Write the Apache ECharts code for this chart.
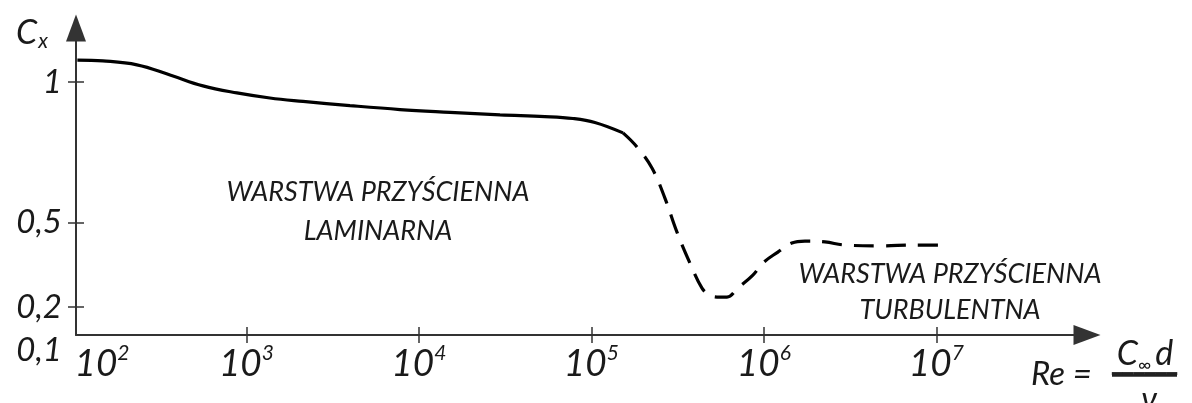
<!DOCTYPE html>
<html><head><meta charset="utf-8">
<script src="https://cdn.jsdelivr.net/npm/echarts@6/dist/echarts.min.js"></script>
<style>html,body{margin:0;padding:0;background:#fff}#c{width:1192px;height:403px}</style>
</head><body><div id="c"></div>
<script>
// x values are log10(Re)
const laminarLogRe = [2.02, 2.168, 2.365, 2.557, 2.748, 2.945, 3.136, 3.328, 3.600, 3.890, 4.180, 4.470, 4.730, 4.893, 5.020, 5.183];
const laminarCx    = [1.078, 1.075, 1.061, 1.025, 0.986, 0.961, 0.943, 0.931, 0.916, 0.902, 0.892, 0.883, 0.877, 0.870, 0.856, 0.819];
const turbulentLogRe = [5.183, 5.264, 5.351, 5.426, 5.496, 5.571, 5.641, 5.687, 5.728, 5.786, 5.849, 5.936, 5.994, 6.081, 6.162, 6.238, 6.354, 6.470, 6.672, 6.875, 7.078];
const turbulentCx    = [0.819, 0.769, 0.694, 0.587, 0.466, 0.356, 0.267, 0.242, 0.235, 0.235, 0.267, 0.313, 0.356, 0.395, 0.427, 0.434, 0.431, 0.420, 0.417, 0.420, 0.420];
const xTickExponents = [2, 3, 4, 5, 6, 7];
const yTickValues = [0.1, 0.2, 0.5, 1];
const yTickLabels = ['0,1', '0,2', '0,5', '1'];
const laminarText = 'WARSTWA PRZYŚCIENNA\nLAMINARNA';
const turbulentText = 'WARSTWA PRZYŚCIENNA\nTURBULENTNA';

const FONT = 'Lato';
const AX = '#333';
const X_MIN = 2.012, X_MAX = 7.873, Y_MIN = 0.1, Y_MAX = 1.192;

const chart = echarts.init(document.getElementById('c'), null, {renderer: 'canvas'});
const zip = (a, b) => a.map((v, i) => [v, b[i]]);

// the first label (10^2) sits at the axis origin
const xLabelValues = xTickExponents.map(e => Math.max(e, X_MIN));
const xLabelFmt = v => {
  const e = Math.round(v);
  return e === xTickExponents[0] ? '{f|10}{s|' + e + '}' : '{b|10}{s|' + e + '}';
};
const yLabelFmt = v => {
  const i = yTickValues.findIndex(t => Math.abs(t - v) < 1e-9);
  const t = i >= 0 ? yTickLabels[i] : '';
  return i === 0 ? '{o|' + t + '}' : '{n|' + t + '}';
};

const grid = {left: 76, right: 105, top: 28, bottom: 68};
chart.setOption({
  backgroundColor: '#fff',
  animation: false,
  grid: grid,
  xAxis: [{
    type: 'value', min: X_MIN, max: X_MAX,
    splitLine: {show: false},
    axisLine: {show: true, lineStyle: {color: AX, width: 2}, symbol: ['none', 'triangle'], symbolSize: [20, 27]},
    axisTick: {show: true, length: 8, lineStyle: {color: AX, width: 1.5}, customValues: xTickExponents.slice(1)},
    axisLabel: {
      show: true, margin: 8, customValues: xLabelValues, formatter: xLabelFmt,
      rich: {
        b: {fontFamily: FONT, fontStyle: 'italic', fontSize: 37, color: '#1a1a1a', lineHeight: 40},
        f: {fontFamily: FONT, fontStyle: 'italic', fontSize: 37, color: '#1a1a1a', lineHeight: 40, padding: [0, 0, 0, 52]},
        s: {fontFamily: FONT, fontStyle: 'italic', fontSize: 21, color: '#1a1a1a', padding: [0, 0, 22, 0]}
      }
    }
  }, {
    type: 'value', min: X_MIN, max: X_MAX, position: 'bottom',
    splitLine: {show: false}, axisLine: {show: false}, axisLabel: {show: false},
    axisTick: {show: true, inside: true, length: 8, lineStyle: {color: AX, width: 1.5}, customValues: xTickExponents.slice(1)}
  }],
  yAxis: [{
    type: 'value', min: Y_MIN, max: Y_MAX,
    splitLine: {show: false},
    axisLine: {show: true, lineStyle: {color: AX, width: 2}, symbol: ['none', 'triangle'], symbolSize: [20, 27]},
    axisTick: {show: true, length: 8, lineStyle: {color: AX, width: 1.5}, customValues: yTickValues.slice(1)},
    axisLabel: {
      show: true, margin: 14, customValues: yTickValues, formatter: yLabelFmt,
      rich: {
        n: {fontFamily: FONT, fontStyle: 'italic', fontSize: 33, color: '#1a1a1a'},
        o: {fontFamily: FONT, fontStyle: 'italic', fontSize: 33, color: '#1a1a1a', padding: [30, 0, 0, 0]}
      }
    }
  }, {
    type: 'value', min: Y_MIN, max: Y_MAX, position: 'left',
    splitLine: {show: false}, axisLine: {show: false}, axisLabel: {show: false},
    axisTick: {show: true, inside: true, length: 8, lineStyle: {color: AX, width: 1.5}, customValues: yTickValues.slice(1)}
  }],
  series: [{
    type: 'line', name: 'laminar', data: zip(laminarLogRe, laminarCx),
    smooth: 0.4, showSymbol: false, symbol: 'none',
    lineStyle: {color: '#000', width: 3.2, type: 'solid'}
  }, {
    type: 'line', name: 'turbulent', data: zip(turbulentLogRe, turbulentCx),
    smooth: 0.4, showSymbol: false, symbol: 'none',
    lineStyle: {color: '#000', width: 3.2, type: [20, 12]}
  }],
  graphic: {elements: [
    {type: 'text', left: 16, top: 16, style: {
      text: '{c|C}{x|x}',
      rich: {
        c: {fontFamily: FONT, fontStyle: 'italic', fontSize: 34, fill: '#1a1a1a'},
        x: {fontFamily: FONT, fontStyle: 'italic', fontSize: 21, fill: '#1a1a1a', padding: [16, 0, 0, 1]}
      }}},
    {type: 'text', x: 378, y: 212, style: {
      text: laminarText, fontFamily: FONT, fontStyle: 'italic', fontSize: 27, lineHeight: 39,
      fill: '#1a1a1a', align: 'center', verticalAlign: 'middle'}},
    {type: 'text', x: 950, y: 292, style: {
      text: turbulentText, fontFamily: FONT, fontStyle: 'italic', fontSize: 27, lineHeight: 36,
      fill: '#1a1a1a', align: 'center', verticalAlign: 'middle'}},
    {type: 'text', x: 1031, y: 374, style: {
      text: 'Re =', fontFamily: FONT, fontStyle: 'italic', fontSize: 33,
      fill: '#1a1a1a', align: 'left', verticalAlign: 'middle'}},
    {type: 'text', x: 1145, y: 334, style: {
      text: '{c|C}{i|∞}{d|d}', align: 'center', verticalAlign: 'top',
      rich: {
        c: {fontFamily: FONT, fontStyle: 'italic', fontSize: 34, lineHeight: 40, fill: '#1a1a1a'},
        i: {fontFamily: FONT, fontSize: 18, lineHeight: 22, fill: '#1a1a1a', verticalAlign: 'bottom', padding: [0, 4, 0, 0]},
        d: {fontFamily: FONT, fontStyle: 'italic', fontSize: 34, lineHeight: 40, fill: '#1a1a1a'}
      }}},
    {type: 'polyline', z: 100, shape: {points: [[1112, 375.5], [1177, 375.5]]}, style: {stroke: '#222', lineWidth: 2.5, fill: null}},
    {type: 'text', x: 1144.5, y: 375.5, z: 100, style: {
      text: '━━━━━━', fontFamily: 'DejaVu Sans', fontSize: 18,
      fill: '#222', align: 'center', verticalAlign: 'middle'}},
    {type: 'text', x: 1149, y: 399, style: {
      text: 'ν', fontFamily: FONT, fontStyle: 'italic', fontSize: 33,
      fill: '#1a1a1a', align: 'center', verticalAlign: 'middle'}}
  ]}
});
</script>
</body></html>
